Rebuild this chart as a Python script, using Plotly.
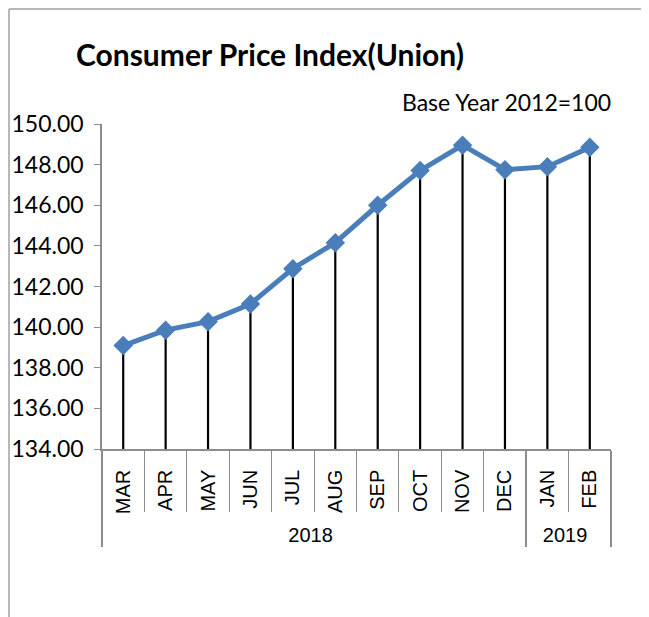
import plotly.graph_objects as go

months = ["MAR", "APR", "MAY", "JUN", "JUL", "AUG", "SEP", "OCT", "NOV", "DEC", "JAN", "FEB"]
years = ["2018"] * 10 + ["2019"] * 2
cpi = [139.09, 139.85, 140.27, 141.14, 142.88, 144.16, 146.00, 147.71, 148.96, 147.75, 147.90, 148.85]
y_min = 134.0
y_max = 150.0

OFF = 8  # page body margin
W, H = 649 - OFF, 617 - OFF
# target plot-area edges in window pixels
PL, PR, PT, PB = 102, 611, 124, 449
L, R, T, B = PL - OFF, W - (PR - OFF), PT - OFF, H - (PB - OFF)
pw = W - L - R
ph = H - T - B

def px(x):
    return (x - OFF - L) / pw

def py(y):
    return (H - B - (y - OFF)) / ph

fig = go.Figure()
fig.add_trace(go.Scatter(
    x=[years, months], y=cpi,
    mode="lines+markers",
    line=dict(color="#4A7EBB", width=5),
    marker=dict(symbol="diamond", size=15, color="#4A7EBB"),
    error_y=dict(type="data", symmetric=False, array=[0] * len(cpi),
                 arrayminus=[v - y_min for v in cpi], color="black",
                 thickness=2.2, width=0),
    showlegend=False, hoverinfo="x+y",
))

axis_gray = "#8C8C8C"
frame = dict(color="#A0A0A0", width=1.5)
fig.update_layout(
    width=W, height=H,
    margin=dict(l=L, r=R, t=T, b=B, autoexpand=False),
    paper_bgcolor="white", plot_bgcolor="white",
    font=dict(family="Lato, Liberation Sans, sans-serif", color="black"),
    xaxis=dict(
        type="multicategory", automargin=False,
        range=[-0.5, len(months) - 0.5],
        tickson="boundaries", ticks="outside", ticklen=61, tickcolor=axis_gray,
        showline=True, linecolor=axis_gray, linewidth=1.5,
        showdividers=True, dividercolor=axis_gray, dividerwidth=1.5,
        tickangle=-90, ticklabelstandoff=11,
        tickfont=dict(family="Liberation Sans, Arial, sans-serif", size=20, color="black"),
        showgrid=False, zeroline=False,
    ),
    yaxis=dict(
        range=[y_min, y_max], dtick=2, tickformat=".2f", automargin=False,
        ticks="outside", ticklen=6, tickcolor=axis_gray, ticklabelstandoff=6,
        showline=True, linecolor=axis_gray, linewidth=1.5,
        tickfont=dict(family="Lato, sans-serif", size=23, color="black"),
        showgrid=False, zeroline=False,
    ),
    shapes=[
        dict(type="line", xref="paper", yref="paper",
             x0=px(9), x1=px(700), y0=py(9), y1=py(9), line=frame),
        dict(type="line", xref="paper", yref="paper",
             x0=px(9), x1=px(9), y0=py(9), y1=py(700), line=frame),
    ],
    annotations=[
        dict(text="<b>Consumer Price Index(Union)</b>", xref="paper", yref="paper",
             x=px(74), y=py(54), xanchor="left", yanchor="middle", showarrow=False,
             font=dict(family="Lato, sans-serif", size=30, color="black")),
        dict(text="Base Year 2012=100", xref="paper", yref="paper",
             x=px(613), y=py(102), xanchor="right", yanchor="middle", showarrow=False,
             font=dict(family="Lato, sans-serif", size=23, color="black")),
    ],
)

fig.write_html("out.html")
